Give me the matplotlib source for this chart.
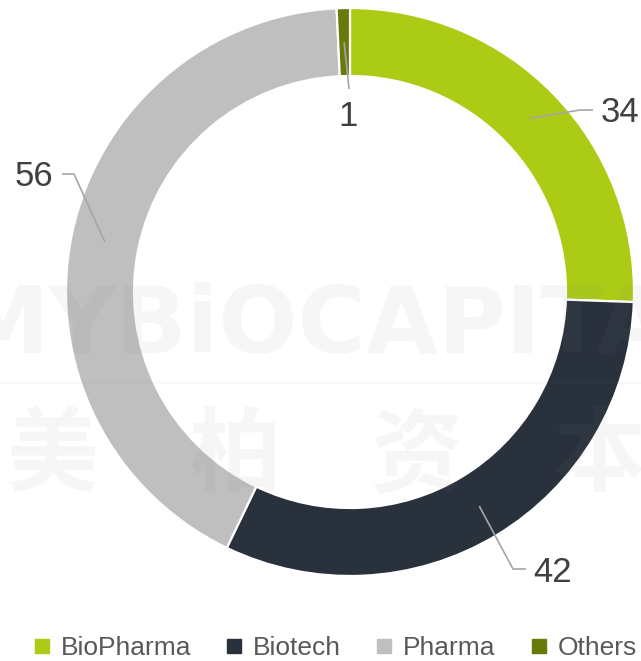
#!/usr/bin/env python3
"""Donut chart: company type breakdown."""

import numpy as np
import matplotlib
matplotlib.use("Agg")
import matplotlib.pyplot as plt
from matplotlib.lines import Line2D

plt.rcParams["font.family"] = ["Liberation Sans", "DejaVu Sans"]

# data
categories = ["BioPharma", "Biotech", "Pharma", "Others"]
values = [34, 42, 56, 1]
colors = ["#ABCB14", "#29313D", "#BFBFBF", "#687A09"]

# layout (pixel coordinates, y grows downward)
W, H = 641, 661
CX, CY = 350, 292
R_OUT, R_IN = 284, 216
R_LEADER = 250
# elbow point, end of leader, text anchor, alignment
label_layout = [
    ((580, 110), (593, 110), (601, 113), "left"),
    ((513, 569), (526, 569), (533, 572), "left"),
    ((74, 174), (62, 174), (53, 177), "right"),
    ((349, 89), (349, 89), (348, 116), "center"),
]

fig = plt.figure(figsize=(W / 100, H / 100), dpi=100)
ax = fig.add_axes([0, 0, 1, 1])

wedges, _ = ax.pie(
    values,
    colors=colors,
    center=(CX, CY),
    radius=R_OUT,
    startangle=-90,
    counterclock=True,
    wedgeprops=dict(width=R_OUT - R_IN, edgecolor="white", linewidth=1.6),
)
ax.set_xlim(0, W)
ax.set_ylim(H, 0)
ax.set_aspect("equal")
ax.axis("off")

# leader lines + value labels
for w, val, (elbow, end, txt, ha) in zip(wedges, values, label_layout):
    mid = np.deg2rad((w.theta1 + w.theta2) / 2)
    sx = CX + R_LEADER * np.cos(mid)
    sy = CY + R_LEADER * np.sin(mid)
    ax.plot([sx, elbow[0], end[0]], [sy, elbow[1], end[1]],
            color="#A6A6A6", lw=1.2, solid_capstyle="butt", zorder=3)
    ax.text(txt[0], txt[1], str(val), ha=ha, va="center",
            fontsize=25, color="#404040", zorder=4)

# watermark
ax.text(342, 353, "MYBiOCAPITAL", ha="center", va="baseline",
        fontsize=67, fontweight="bold", family="DejaVu Sans",
        color="#808080", alpha=0.065, zorder=5)
ax.plot([0, W], [382, 382], color="#808080", alpha=0.045, lw=2, zorder=5)
for ch, x in zip("美柏资本", [52, 235, 417, 600]):
    ax.text(x, 457, ch, ha="center", va="center", fontsize=66,
            family="Noto Sans CJK SC", fontweight="bold",
            color="#808080", alpha=0.065, zorder=5)

# legend
handles = [Line2D([], [], marker="s", linestyle="none", markersize=9.5,
                  markerfacecolor=c, markeredgecolor=c) for c in colors]
fig.legend(handles, categories, loc="center", ncol=4,
           bbox_to_anchor=(336 / W, 1 - 648 / H), frameon=False,
           fontsize=19, labelcolor="#595959", handlelength=0.5,
           handletextpad=0.45, columnspacing=1.4, borderpad=0)

fig.savefig("out.png", dpi=100)
